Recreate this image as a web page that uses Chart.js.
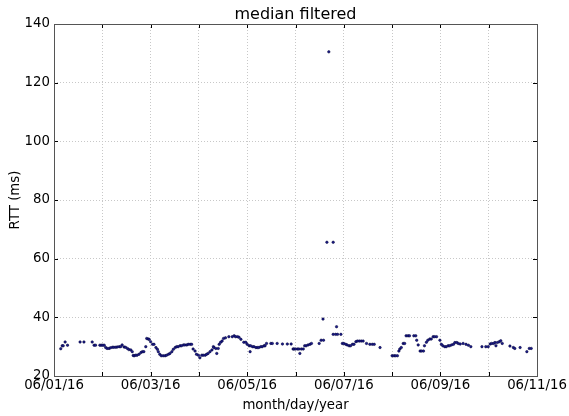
<!DOCTYPE html>
<html>
<head>
<meta charset="utf-8">
<script src="https://cdn.jsdelivr.net/npm/chart.js@4/dist/chart.umd.min.js"></script>
<style>
    html, body { margin: 0; padding: 0; background: #fff; }
    #wrap { width: 569px; height: 416px; }
</style>
</head>
<body>
<div id="wrap"><canvas id="rttChart" width="569" height="416"></canvas></div>
<script>
// days after 06/01/16 00:00
const days = [
    0.14, 0.17, 0.19, 0.23, 0.28, 0.54, 0.62, 0.79, 0.83, 0.86, 0.95, 0.98, 1.01, 1.04, 1.07, 1.10, 1.14, 1.17,
    1.21, 1.24, 1.28, 1.31, 1.35, 1.38, 1.41, 1.45, 1.48, 1.52, 1.55, 1.59, 1.62, 1.64, 1.66, 1.69, 1.72, 1.76,
    1.80, 1.83, 1.86, 1.90, 1.92, 1.95, 1.97, 2.00, 2.04, 2.07, 2.11, 2.14, 2.16, 2.19, 2.22, 2.26, 2.30, 2.33,
    2.37, 2.40, 2.44, 2.47, 2.51, 2.54, 2.57, 2.61, 2.64, 2.68, 2.71, 2.75, 2.78, 2.82, 2.85, 2.88, 2.92, 2.95,
    2.99, 3.02, 3.06, 3.09, 3.13, 3.16, 3.19, 3.23, 3.27, 3.30, 3.31, 3.35, 3.37, 3.40, 3.42, 3.45, 3.48, 3.51,
    3.55, 3.62, 3.69, 3.73, 3.76, 3.80, 3.83, 3.87, 3.93, 3.97, 4.00, 4.04, 4.06, 4.07, 4.11, 4.14, 4.18, 4.21,
    4.24, 4.28, 4.31, 4.35, 4.37, 4.40, 4.49, 4.52, 4.62, 4.73, 4.83, 4.91, 4.95, 4.97, 5.00, 5.04, 5.07, 5.09,
    5.12, 5.16, 5.19, 5.22, 5.26, 5.30, 5.33, 5.49, 5.53, 5.58, 5.57, 5.65, 5.69, 5.78, 5.78, 5.83, 5.87, 5.85,
    5.94, 5.97, 6.00, 6.04, 6.07, 6.11, 6.14, 6.18, 6.21, 6.25, 6.28, 6.32, 6.36, 6.40, 6.47, 6.54, 6.59, 6.63,
    6.75, 7.00, 7.04, 7.07, 7.11, 7.14, 7.16, 7.19, 7.23, 7.26, 7.29, 7.33, 7.36, 7.45, 7.49, 7.51, 7.54, 7.58,
    7.61, 7.65, 7.67, 7.71, 7.74, 7.78, 7.81, 7.85, 7.88, 7.92, 7.99, 8.02, 8.05, 8.09, 8.12, 8.16, 8.19, 8.23,
    8.27, 8.30, 8.34, 8.37, 8.41, 8.47, 8.53, 8.58, 8.63, 8.86, 8.94, 8.99, 9.03, 9.06, 9.10, 9.13, 9.15, 9.18,
    9.22, 9.25, 9.28, 9.44, 9.51, 9.54, 9.65, 9.79, 9.84, 9.88
];
const rtt = [
    29.3, 30.3, 30.3, 31.6, 30.5, 31.6, 31.6, 31.6, 30.5, 30.5, 30.5, 30.5, 30.5, 30.5, 29.7, 29.4, 29.4, 29.6,
    29.8, 29.8, 29.8, 29.9, 30.0, 30.0, 30.6, 29.9, 29.8, 29.4, 29.0, 28.9, 28.3, 27.0, 26.9, 27.1, 27.1, 27.4,
    28.0, 28.3, 28.3, 30.0, 32.8, 32.6, 32.5, 31.7, 30.8, 30.8, 29.7, 29.1, 28.3, 27.4, 26.9, 26.9, 26.9, 27.1,
    27.4, 27.7, 28.3, 29.1, 29.7, 30.0, 30.0, 30.3, 30.3, 30.6, 30.6, 30.6, 30.8, 30.8, 30.8, 29.2, 28.5, 27.4,
    27.1, 26.2, 27.1, 27.1, 27.1, 27.4, 27.7, 28.3, 28.9, 30.0, 29.7, 29.4, 27.7, 29.4, 30.8, 31.5, 31.9, 32.8,
    33.0, 33.4, 33.4, 33.7, 33.4, 33.4, 33.2, 32.5, 31.5, 31.5, 30.8, 30.3, 28.3, 30.3, 30.0, 30.0, 29.7, 29.7,
    29.7, 30.0, 30.0, 30.3, 30.3, 31.1, 31.1, 31.1, 31.1, 30.9, 30.9, 30.9, 29.2, 29.2, 29.2, 29.2, 29.2, 27.7,
    29.2, 29.2, 30.3, 30.3, 30.6, 30.8, 31.1, 31.1, 32.2, 32.2, 39.4, 65.6, 130.5, 65.6, 34.2, 34.2, 34.2, 36.8,
    34.2, 31.1, 31.1, 30.8, 30.6, 30.3, 30.3, 30.8, 30.8, 31.7, 31.9, 31.9, 31.9, 31.9, 31.1, 30.8, 30.8, 30.8,
    29.7, 26.9, 26.9, 26.9, 26.9, 28.5, 29.2, 29.7, 31.1, 31.1, 33.7, 33.7, 33.7, 33.7, 33.7, 32.2, 30.6, 28.5,
    28.5, 28.5, 30.3, 31.5, 32.2, 32.6, 32.6, 33.4, 33.4, 33.4, 32.2, 30.8, 30.3, 30.0, 30.0, 30.3, 30.3, 30.6,
    30.8, 31.4, 31.4, 31.1, 30.9, 31.1, 30.8, 30.5, 30.0, 30.0, 30.0, 30.0, 30.9, 31.1, 31.1, 31.4, 30.3, 31.4,
    31.7, 32.0, 31.1, 30.2, 29.7, 29.4, 29.7, 28.3, 29.4, 29.4
];
const dayTicks = ['06/01/16', '', '06/03/16', '', '06/05/16', '', '06/07/16', '', '06/09/16', '', '06/11/16'];
const yTicks = [20, 40, 60, 80, 100, 120, 140];
const chartTitle = 'median filtered';

const FONT = "'DejaVu Sans', sans-serif";

// matplotlib-like frame with inward ticks, title centred over the axes
const framePlugin = {
    id: 'frame',
    afterDraw(chart) {
        const { ctx, chartArea: a, scales } = chart;
        ctx.save();
        ctx.strokeStyle = '#000';
        ctx.lineWidth = 1;
        ctx.beginPath();
        dayTicks.forEach((t, i) => {
            const x = Math.round(scales.x.getPixelForValue(i)) + 0.5;
            ctx.moveTo(x, a.bottom); ctx.lineTo(x, a.bottom - 4);
            ctx.moveTo(x, a.top); ctx.lineTo(x, a.top + 4);
        });
        yTicks.forEach(v => {
            const y = Math.round(scales.y.getPixelForValue(v)) + 0.5;
            ctx.moveTo(a.left, y); ctx.lineTo(a.left + 4, y);
            ctx.moveTo(a.right, y); ctx.lineTo(a.right - 4, y);
        });
        ctx.stroke();
        ctx.strokeStyle = '#555';
        ctx.strokeRect(Math.round(a.left) + 0.5, Math.round(a.top) + 0.5,
            Math.round(a.right - a.left), Math.round(a.bottom - a.top));

        ctx.fillStyle = '#000';
        ctx.font = '16px ' + FONT;
        ctx.textAlign = 'center';
        ctx.textBaseline = 'alphabetic';
        ctx.fillText(chartTitle, (a.left + a.right) / 2, a.top - 5);
        ctx.restore();
    }
};

function buildChart() {
    const ctx = document.getElementById('rttChart');
    const points = days.map((d, i) => ({ x: d, y: rtt[i] }));

    new Chart(ctx, {
        type: 'scatter',
        data: {
            datasets: [{
                label: 'RTT',
                data: points,
                backgroundColor: '#1c1c8c',
                borderColor: '#000033',
                borderWidth: 0.5,
                pointRadius: 1.25
            }]
        },
        options: {
            responsive: false,
            animation: false,
            devicePixelRatio: 1,
            layout: { padding: { top: 24, right: 32, bottom: 0, left: 0 } },
            plugins: {
                legend: { display: false },
                tooltip: { enabled: false },
                title: { display: false }
            },
            scales: {
                x: {
                    type: 'linear',
                    min: 0,
                    max: 10,
                    afterBuildTicks(scale) {
                        scale.ticks = dayTicks.map((t, i) => ({ value: i }));
                    },
                    afterFit(scale) { scale.height = 40; },
                    ticks: {
                        color: '#000',
                        autoSkip: false,
                        maxRotation: 0,
                        padding: 2,
                        font: { family: FONT, size: 13.3 },
                        callback: (v) => dayTicks[v]
                    },
                    grid: { color: '#c8c8c8', tickLength: 0, lineWidth: 1 },
                    border: { display: false, dash: [1, 2] },
                    title: {
                        display: true,
                        text: 'month/day/year',
                        color: '#000',
                        font: { family: FONT, size: 13.3 },
                        padding: { top: 0, bottom: 2 }
                    }
                },
                y: {
                    min: 20,
                    max: 140,
                    afterBuildTicks(scale) {
                        scale.ticks = yTicks.map(v => ({ value: v }));
                    },
                    afterFit(scale) { scale.width = 54; },
                    ticks: {
                        color: '#000',
                        padding: 4,
                        font: { family: FONT, size: 13.3 }
                    },
                    grid: { color: '#c8c8c8', tickLength: 0, lineWidth: 1 },
                    border: { display: false, dash: [1, 2] },
                    title: {
                        display: true,
                        text: 'RTT (ms)',
                        color: '#000',
                        font: { family: FONT, size: 13.3 },
                        padding: { top: 8, bottom: 0 }
                    }
                }
            }
        },
        plugins: [framePlugin]
    });
}

buildChart();
</script>
</body>
</html>
